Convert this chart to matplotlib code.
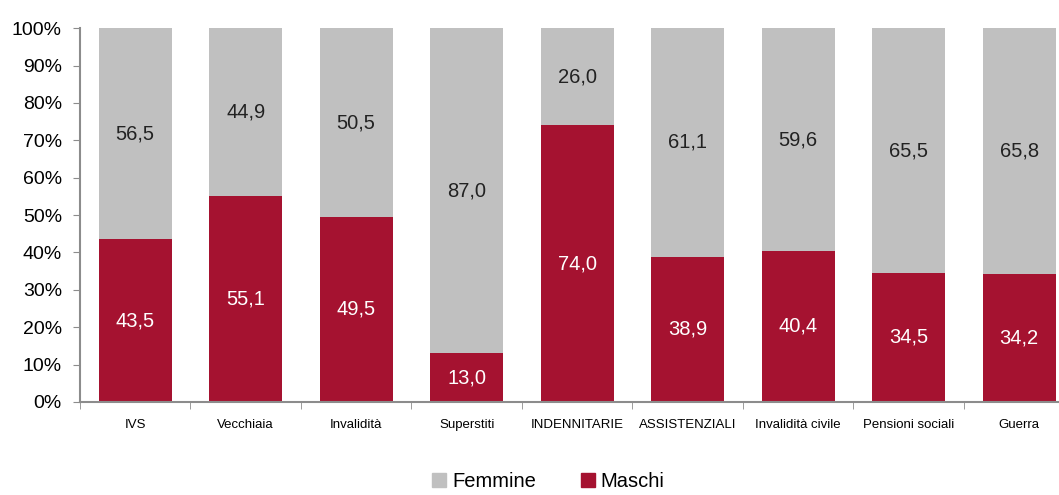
import matplotlib.pyplot as plt
import matplotlib.patches as mpatches
import numpy as np

plt.rcParams['font.family'] = ['Liberation Sans', 'DejaVu Sans']

categories = ['IVS', 'Vecchiaia', 'Invalidità', 'Superstiti', 'INDENNITARIE',
              'ASSISTENZIALI', 'Invalidità civile', 'Pensioni sociali', 'Guerra']
maschi = [43.5, 55.1, 49.5, 13.0, 74.0, 38.9, 40.4, 34.5, 34.2]
femmine = [56.5, 44.9, 50.5, 87.0, 26.0, 61.1, 59.6, 65.5, 65.8]

RED = '#A51230'
GRAY = '#C0C0C0'
AXIS = '#8C8C8C'

fig = plt.figure(figsize=(10.59, 4.95), dpi=100)
ax = fig.add_axes([0.0755, 0.188, 0.939, 0.755])

x = np.arange(len(categories))
w = 0.66
ax.bar(x, maschi, width=w, color=RED, linewidth=0)
ax.bar(x, femmine, width=w, bottom=maschi, color=GRAY, linewidth=0)

for i, (m, f) in enumerate(zip(maschi, femmine)):
    ax.text(i, m / 2, f'{m:.1f}'.replace('.', ','), ha='center', va='center',
            fontsize=14.5, color='white')
    ax.text(i, m + f / 2, f'{f:.1f}'.replace('.', ','), ha='center', va='center',
            fontsize=14.5, color='#222222')

ax.set_xlim(-0.5, len(categories) - 0.5)
ax.set_ylim(0, 100)
ax.set_yticks(np.arange(0, 101, 10))
ax.set_yticklabels([f'{v}%' for v in range(0, 101, 10)], fontsize=14)

ax.set_xticks(x)
ax.set_xticklabels(categories, fontsize=9.5,
                   fontfamily=['Liberation Sans Narrow', 'Liberation Sans'])
ax.tick_params(axis='x', length=0, pad=12)
ax.set_xticks(np.arange(-0.5, len(categories), 1), minor=True)
ax.tick_params(axis='x', which='minor', length=5, color=AXIS, direction='out')
ax.tick_params(axis='y', length=5, color=AXIS, pad=8)

for s in ['top', 'right']:
    ax.spines[s].set_visible(False)
for s in ['left', 'bottom']:
    ax.spines[s].set_color(AXIS)
    ax.spines[s].set_linewidth(1.5)

handles = [mpatches.Patch(color=GRAY, label='Femmine'),
           mpatches.Patch(color=RED, label='Maschi')]
fig.legend(handles=handles, loc='center', bbox_to_anchor=(0.518, 0.028), ncol=2,
           frameon=False, fontsize=14.5, handlelength=0.7, handleheight=0.7,
           handletextpad=0.3, columnspacing=2.2)

fig.savefig('out.png', dpi=100, facecolor='white')
